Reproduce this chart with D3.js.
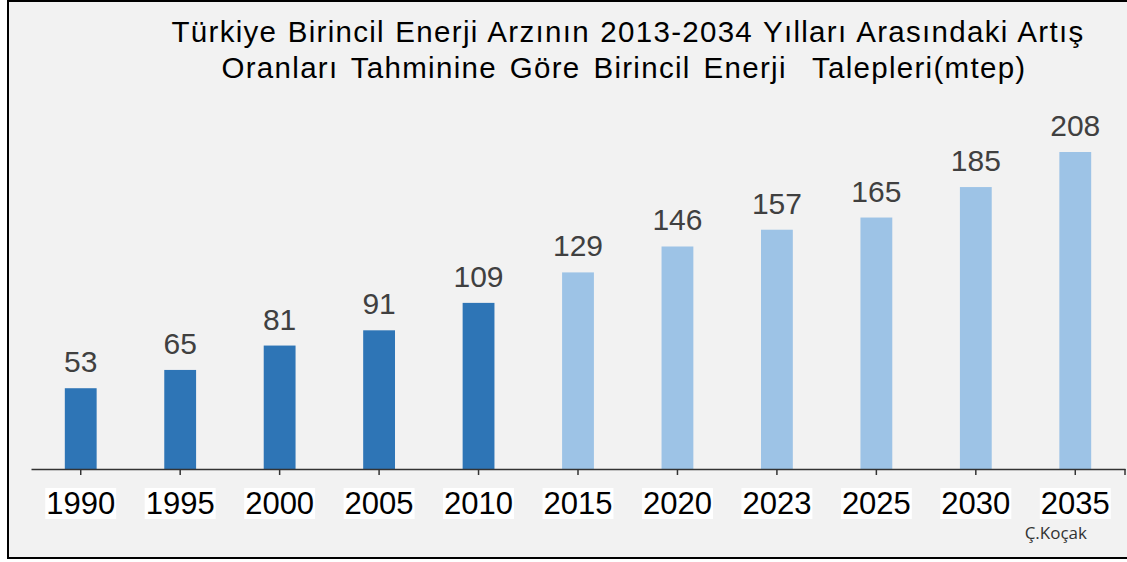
<!DOCTYPE html>
<html>
<head>
<meta charset="utf-8">
<script src="https://cdn.jsdelivr.net/npm/d3@7"></script>
<style>
  body { margin: 0; background: #fff; }
  text { font-family: "Liberation Sans", Arial, sans-serif; }
</style>
</head>
<body>
<div id="chart"></div>
<script>
// chart data
const years = ["1990", "1995", "2000", "2005", "2010", "2015", "2020", "2023", "2025", "2030", "2035"];
const demand = [53, 65, 81, 91, 109, 129, 146, 157, 165, 185, 208];
const kind = ["actual", "actual", "actual", "actual", "actual",
              "forecast", "forecast", "forecast", "forecast", "forecast", "forecast"];
const titleLines = ["Türkiye Birincil Enerji Arzının 2013-2034 Yılları Arasındaki Artış",
                    "Oranları Tahminine Göre Birincil Enerji  Talepleri(mtep)"];
const credit = "Ç.Koçak";

const W = 1127, H = 562;
const margin = {left: 31, right: 2, top: 152, bottom: 93};

const svg = d3.select("#chart").append("svg")
    .attr("width", W)
    .attr("height", H);

// panel background + frame
svg.append("rect")
    .attr("x", 8).attr("y", 1)
    .attr("width", W).attr("height", 557)
    .attr("fill", "#f2f2f2")
    .attr("stroke", "#000")
    .attr("stroke-width", 2);

const data = years.map((y, i) => ({year: y, value: demand[i], kind: kind[i]}));

const x = d3.scaleBand()
    .domain(years)
    .range([margin.left, W - margin.right])
    .paddingInner(0.68)
    .paddingOuter(0.34);

const y = d3.scaleLinear()
    .domain([0, d3.max(demand)])
    .range([H - margin.bottom, margin.top]);

const color = d3.scaleOrdinal()
    .domain(["actual", "forecast"])
    .range(["#2e75b6", "#9dc3e6"]);

// bars
svg.append("g")
    .selectAll("rect")
    .data(data)
    .join("rect")
    .attr("x", d => x(d.year))
    .attr("y", d => y(d.value))
    .attr("width", x.bandwidth())
    .attr("height", d => y(0) - y(d.value))
    .attr("fill", d => color(d.kind));

// value labels
svg.append("g")
    .selectAll("text")
    .data(data)
    .join("text")
    .attr("x", d => x(d.year) + x.bandwidth() / 2)
    .attr("y", d => y(d.value) - 16)
    .attr("text-anchor", "middle")
    .attr("fill", "#404040")
    .style("font-size", "30px")
    .text(d => d.value);

// x axis
const xAxis = svg.append("g")
    .attr("transform", "translate(0," + y(0) + ")")
    .call(d3.axisBottom(x).tickSize(6).tickSizeOuter(0).tickPadding(17));

xAxis.select(".domain").attr("stroke", "#333").attr("stroke-width", 1.5);
xAxis.selectAll(".tick line").attr("stroke", "#333").attr("stroke-width", 1.5);

// end tick on the right
xAxis.append("line")
    .attr("x1", x.range()[1]).attr("x2", x.range()[1])
    .attr("y1", 0).attr("y2", 6)
    .attr("stroke", "#333").attr("stroke-width", 1.5);

xAxis.selectAll(".tick text")
    .attr("fill", "#000")
    .style("font-family", "'Liberation Sans', Arial, sans-serif")
    .style("font-size", "31px");

// white boxes behind the year labels
xAxis.selectAll(".tick").each(function () {
    const t = d3.select(this).select("text");
    const bb = t.node().getBBox();
    d3.select(this).insert("rect", "text")
        .attr("x", bb.x - 1)
        .attr("y", bb.y + 2)
        .attr("width", bb.width + 2)
        .attr("height", bb.height - 4)
        .attr("fill", "#fff");
});

// title - slight letter spacing, word gaps stretched so each line fills its width
const titleWidths = [913, 805];
svg.append("g")
    .selectAll("text")
    .data(titleLines)
    .join("text")
    .attr("x", (d, i) => i === 0 ? 628 : 624)
    .attr("y", (d, i) => 42 + i * 36)
    .attr("text-anchor", "middle")
    .attr("fill", "#000")
    .style("font-size", "29.5px")
    .style("letter-spacing", "1.3px")
    .style("white-space", "pre")
    .text(d => d)
    .each(function (d, i) {
        const gaps = d.split(" ").length - 1;
        let ws = 0;
        for (let k = 0; k < 2; k++) {
            const w = this.getBBox().width;
            ws = Math.max(0, ws + (titleWidths[i] - w) / gaps);
            d3.select(this).style("word-spacing", ws + "px");
        }
    });

// credit
svg.append("text")
    .attr("x", 1087)
    .attr("y", 539)
    .attr("text-anchor", "end")
    .attr("fill", "#333")
    .style("font-family", "'Open Sans', sans-serif")
    .style("font-size", "17px")
    .text(credit);
</script>
</body>
</html>
